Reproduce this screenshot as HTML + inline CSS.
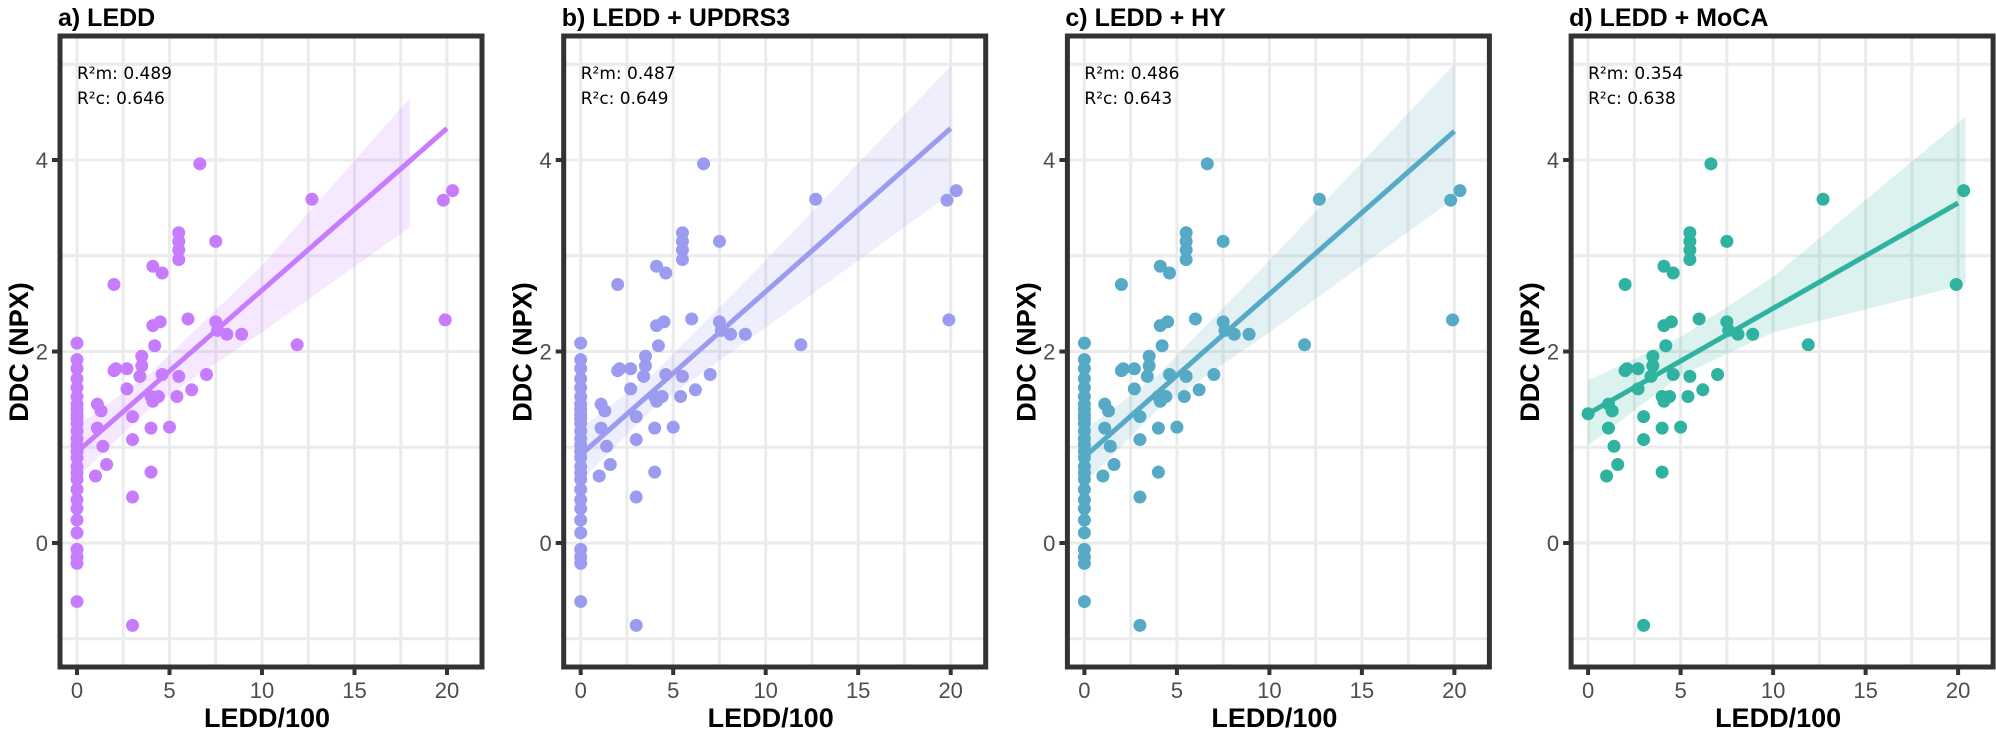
<!DOCTYPE html>
<html><head><meta charset="utf-8"><style>
body{margin:0;background:#fff;}
svg{display:block;font-family:"Liberation Sans",sans-serif;}
.tl{font-size:22px;fill:#4d4d4d;}
.ti{font-size:25px;font-weight:bold;fill:#000;}
.at{font-size:27px;font-weight:bold;fill:#000;}
.r2{font-size:17px;fill:#000;font-family:"DejaVu Sans",sans-serif;}
</style></head><body>
<svg id="s" width="1996" height="731" viewBox="0 0 1996 731">
<g id="g0"><text class="ti" x="58" y="26">a) LEDD</text><text class="r2" x="77" y="79">R²m: 0.489</text><text class="r2" x="77" y="104">R²c: 0.646</text></g>
<g id="g1" transform="translate(503.7,0)"><text class="ti" x="58" y="26">b) LEDD + UPDRS3</text><text class="r2" x="77" y="79">R²m: 0.487</text><text class="r2" x="77" y="104">R²c: 0.649</text></g>
<g id="g2" transform="translate(1007.4,0)"><text class="ti" x="58" y="26">c) LEDD + HY</text><text class="r2" x="77" y="79">R²m: 0.486</text><text class="r2" x="77" y="104">R²c: 0.643</text></g>
<g id="g3" transform="translate(1511.1,0)"><text class="ti" x="58" y="26">d) LEDD + MoCA</text><text class="r2" x="77" y="79">R²m: 0.354</text><text class="r2" x="77" y="104">R²c: 0.638</text></g>
</svg>
<script>
var NS="http://www.w3.org/2000/svg";
function X(v){return 77+18.5*v;} function Y(v){return 543-95.75*v;}
var nz=[[6.64,3.96],[12.7,3.59],[20.3,3.68],[19.8,3.58],[19.9,2.33],[11.9,2.07],[5.5,3.15],[5.5,3.24],[5.5,3.06],[5.5,2.96],[7.5,3.15],[4.1,2.89],[4.6,2.82],[2.0,2.70],[6.0,2.34],[4.5,2.31],[4.1,2.27],[7.5,2.31],[7.6,2.22],[8.1,2.18],[8.9,2.18],[4.2,2.06],[3.5,1.95],[3.5,1.85],[2.1,1.82],[2.0,1.80],[2.7,1.82],[4.6,1.76],[5.5,1.74],[7.0,1.76],[3.4,1.74],[6.2,1.60],[5.4,1.53],[4.4,1.53],[4.0,1.53],[4.1,1.48],[1.1,1.45],[1.3,1.38],[2.7,1.61],[3.0,1.32],[5.0,1.21],[1.1,1.20],[1.4,1.01],[3.0,1.08],[4.0,1.20],[1.6,0.82],[1.0,0.70],[4.0,0.74],[3.0,0.48],[3.0,-0.86]];
var zy=[270,283,290,298,305,312,318,322,326,329,333,339,345,350,355,360,367,372,377,385,393,400,409,419,432,438,443,473];
var z=zy.map(function(d){return [0,(427-d)/75.2];});
var all=nz.concat(z);
var dpts=nz.filter(function(p,i){return i!==3&&i!==48&&i!==4;}).concat([[0,1.35],[19.9,2.70]]);
var P=[
 {c:"#c77cff",pts:all,l:[0.95,4.33],r:[[0,1.22,0.68],[4,1.78,1.42],[10,2.9,2.2],[18,4.65,3.3]]},
 {c:"#9b9cf0",pts:all,l:[0.92,4.33],r:[[0,1.2,0.65],[4,1.78,1.42],[10,2.95,2.25],[20,4.98,3.65]]},
 {c:"#56aac6",pts:all,l:[0.9,4.3],r:[[0,1.18,0.62],[4,1.76,1.4],[10,2.95,2.2],[20,5.0,3.6]]},
 {c:"#2fb3a0",pts:dpts,l:[1.35,3.55],r:[[0,1.7,1.02],[5,2.15,1.75],[10,2.78,2.2],[20.4,4.45,2.7]]}
];
P.forEach(function(p,i){
 var g=document.getElementById("g"+i);
 var bg=document.createElementNS(NS,"g");g.insertBefore(bg,g.firstChild);
 function a(t,at){var e=document.createElementNS(NS,t);for(var k in at)e.setAttribute(k,at[k]);bg.appendChild(e);return e;}
 for(var v=0;v<=20;v+=2.5)a("line",{x1:X(v),x2:X(v),y1:36,y2:667,stroke:"#ebebeb","stroke-width":3});
 for(var v=-1;v<=5;v++)a("line",{x1:60,x2:482,y1:Y(v),y2:Y(v),stroke:"#ebebeb","stroke-width":3});
 var top=p.r.map(function(q){return X(q[0])+","+Y(q[1]);}),bot=p.r.slice().reverse().map(function(q){return X(q[0])+","+Y(q[2]);});
 a("polygon",{points:top.concat(bot).join(" "),fill:p.c,"fill-opacity":0.17});
 p.pts.forEach(function(q){a("circle",{cx:X(q[0]),cy:Y(q[1]),r:6.5,fill:p.c});});
 a("line",{x1:X(0),y1:Y(p.l[0]),x2:X(20),y2:Y(p.l[1]),stroke:p.c,"stroke-width":5});
 a("rect",{x:60,y:36,width:422,height:631,fill:"none",stroke:"#333","stroke-width":5});
 [0,2,4].forEach(function(v){a("line",{x1:52,x2:60,y1:Y(v),y2:Y(v),stroke:"#333","stroke-width":4});
   var t=a("text",{x:48,y:Y(v)+8,"text-anchor":"end","class":"tl"});t.textContent=v;});
 [0,5,10,15,20].forEach(function(v){a("line",{x1:X(v),x2:X(v),y1:667,y2:675,stroke:"#333","stroke-width":4});
   var t=a("text",{x:X(v),y:698,"text-anchor":"middle","class":"tl"});t.textContent=v;});
 var t=a("text",{x:267,y:727,"text-anchor":"middle","class":"at"});t.textContent="LEDD/100";
 t=a("text",{x:0,y:0,"text-anchor":"middle","class":"at",transform:"translate(28,352) rotate(-90)"});t.textContent="DDC (NPX)";
});
</script>
</body></html>
